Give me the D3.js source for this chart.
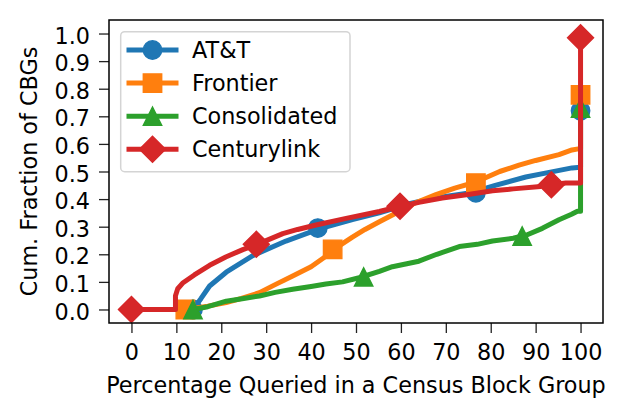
<!DOCTYPE html>
<html>
<head>
<meta charset="utf-8">
<script src="https://cdn.jsdelivr.net/npm/d3@7"></script>
<style>
  body { margin: 0; background: #fff; }
  svg { display: block; font-family: "DejaVu Sans", sans-serif; }
</style>
</head>
<body>
<svg width="624" height="419"></svg>
<script>
var width = 624;
var height = 419;
var margin = {left: 109, right: 21, top: 20, bottom: 96};
var fontSize = '22.3px';

// series, [percent queried, cum. fraction]
var att = [[13.7,0],[15.5,0.04],[17.4,0.085],[21.1,0.135],[27,0.195],[34.4,0.248],[41.8,0.292],
  [49.2,0.326],[55.2,0.35],[61.8,0.383],[68,0.405],[75.2,0.422],[81,0.45],[87.8,0.48],[93,0.497],
  [98.1,0.513],[100,0.515],[100,0.72]];
var frontier = [[12,0],[14,0.005],[17,0.012],[21.1,0.025],[24.5,0.04],[28.5,0.061],[32,0.09],
  [35.9,0.121],[40,0.155],[43.3,0.193],[44.8,0.215],[49.2,0.262],[52,0.29],[55.2,0.318],[59.6,0.355],
  [63,0.385],[67.8,0.416],[72,0.44],[76.7,0.462],[82,0.5],[86.3,0.523],[90,0.54],[95.2,0.561],
  [98.1,0.578],[99.5,0.582],[100,0.582],[100,0.778]];
var consolidated = [[13.7,0],[17,0.01],[21.1,0.03],[25,0.04],[28.5,0.049],[32,0.062],[35.9,0.073],
  [40,0.083],[43.3,0.092],[47,0.1],[50.7,0.115],[55.2,0.138],[58.1,0.155],[64,0.175],[68,0.2],
  [73,0.228],[77,0.236],[80.4,0.248],[85,0.258],[88,0.27],[91.5,0.294],[95.2,0.325],[98,0.345],
  [99.3,0.356],[100,0.356],[100,0.73]];
var centurylink = [[0,0],[9.8,0],[9.8,0.05],[10.3,0.075],[11.5,0.097],[14,0.125],[17.4,0.16],
  [21,0.19],[24.8,0.217],[28,0.236],[33.7,0.275],[37,0.29],[41.1,0.306],[47.8,0.33],[55.2,0.355],
  [60,0.374],[64,0.388],[69.2,0.404],[75,0.417],[80.4,0.43],[85,0.437],[91.1,0.446],[93.5,0.452],
  [96.7,0.458],[100,0.458],[100,0.985]];

// marker positions
var attMarks = [[13.7,0],[41.5,0.295],[76.7,0.423],[100,0.72]];
var frontierMarks = [[12,0],[44.8,0.218],[76.7,0.458],[100,0.778]];
var consolidatedMarks = [[13.7,0],[51.7,0.118],[87,0.266],[100,0.73]];
var centurylinkMarks = [[0,0],[27.8,0.236],[59.8,0.374],[93.5,0.452],[100,0.985]];

var names = ["AT&T", "Frontier", "Consolidated", "Centurylink"];
var colors = ["#1f77b4", "#ff7f0e", "#2ca02c", "#d62728"];
var shapes = ["circle", "square", "triangle", "diamond"];
var xTicks = [0,10,20,30,40,50,60,70,80,90,100];
var yTicks = [0,0.1,0.2,0.3,0.4,0.5,0.6,0.7,0.8,0.9,1.0];

var series = [
  {name: names[0], color: colors[0], shape: shapes[0], values: att, marks: attMarks},
  {name: names[1], color: colors[1], shape: shapes[1], values: frontier, marks: frontierMarks},
  {name: names[2], color: colors[2], shape: shapes[2], values: consolidated, marks: consolidatedMarks},
  {name: names[3], color: colors[3], shape: shapes[3], values: centurylink, marks: centurylinkMarks}
];

var x = d3.scaleLinear().domain([-5, 105]).range([margin.left, width - margin.right]);
var y = d3.scaleLinear().domain([-0.049, 1.049]).range([height - margin.bottom, margin.top]);

var svg = d3.select('svg');

var m = 18.4;  // marker size in px
function markerPath(shape) {
  var h = m / 2;
  if (shape == "circle") {
    return "M" + h + ",0A" + h + "," + h + " 0 1,1 " + (-h) + ",0A" + h + "," + h + " 0 1,1 " + h + ",0Z";
  }
  if (shape == "square") {
    return "M" + (-h) + "," + (-h) + "H" + h + "V" + h + "H" + (-h) + "Z";
  }
  if (shape == "triangle") {
    return "M0," + (-h) + "L" + h + "," + h + "L" + (-h) + "," + h + "Z";
  }
  var d = m * Math.SQRT1_2;
  return "M0," + (-d) + "L" + d + ",0L0," + d + "L" + (-d) + ",0Z";
}

var line = d3.line()
  .x(function (d) { return x(d[0]); })
  .y(function (d) { return y(d[1]); });

// lines + markers, one series after the other
series.forEach(function (s) {
  var g = svg.append('g');
  g.append('path')
    .attr('d', line(s.values))
    .attr('fill', 'none')
    .attr('stroke', s.color)
    .attr('stroke-width', 5)
    .attr('stroke-linejoin', 'round')
    .attr('stroke-linecap', 'square');
  g.selectAll('path.mark')
    .data(s.marks)
    .enter()
    .append('path')
    .attr('class', 'mark')
    .attr('transform', function (d) { return "translate(" + x(d[0]) + "," + y(d[1]) + ")"; })
    .attr('d', markerPath(s.shape))
    .attr('fill', s.color)
    .attr('stroke', s.color)
    .attr('stroke-width', 1.4);
});

// axes
var axisBottom = d3.axisBottom(x).tickValues(xTicks).tickSize(10).tickPadding(11.5)
  .tickFormat(d3.format('d'));
var axisLeft = d3.axisLeft(y).tickValues(yTicks).tickSize(10).tickPadding(9)
  .tickFormat(d3.format('.1f'));

var gx = svg.append('g')
  .attr("transform", "translate(0," + (height - margin.bottom) + ")")
  .call(axisBottom);
var gy = svg.append('g')
  .attr("transform", "translate(" + margin.left + ",0)")
  .call(axisLeft);

[gx, gy].forEach(function (g) {
  g.select('.domain').remove();
  g.selectAll('line').attr('stroke', '#222').attr('stroke-width', 1.3);
  g.selectAll('text').attr('fill', '#000').style('font-size', fontSize)
    .style('font-family', '"DejaVu Sans", sans-serif');
});
gy.selectAll('text').attr('dy', '0.43em');

// frame
svg.append('rect')
  .attr('x', margin.left)
  .attr('y', margin.top)
  .attr('width', width - margin.left - margin.right)
  .attr('height', height - margin.top - margin.bottom)
  .attr('fill', 'none')
  .attr('stroke', '#000')
  .attr('stroke-width', 1.5);

// legend
var legend = svg.append('g');
legend.append('rect')
  .attr('x', 120.7)
  .attr('y', 31.7)
  .attr('width', 229.3)
  .attr('height', 140)
  .attr('rx', 4)
  .attr('fill', '#fff')
  .attr('fill-opacity', 0.8)
  .attr('stroke', '#d4d4d4')
  .attr('stroke-width', 1.5);

var rows = legend.selectAll('g.row')
  .data(series)
  .enter()
  .append('g')
  .attr('class', 'row')
  .attr('transform', function (d, i) { return "translate(0," + (50 + i * 33.1) + ")"; });

rows.append('line')
  .attr('x1', 129)
  .attr('x2', 176)
  .attr('stroke', function (d) { return d.color; })
  .attr('stroke-width', 5)
  .attr('stroke-linecap', 'square');
rows.append('path')
  .attr('transform', 'translate(152.5,0)')
  .attr('d', function (d) { return markerPath(d.shape); })
  .attr('fill', function (d) { return d.color; })
  .attr('stroke', function (d) { return d.color; })
  .attr('stroke-width', 1.4);
rows.append('text')
  .attr('x', 192)
  .attr('y', 7.8)
  .style('font-size', fontSize)
  .text(function (d) { return d.name; });

// text label for the y axis
svg.append("text")
  .attr("transform", "rotate(-90)")
  .attr("y", 37)
  .attr("x", 0 - (margin.top + height - margin.bottom) / 2)
  .style("text-anchor", "middle")
  .style('font-size', fontSize)
  .text("Cum. Fraction of CBGs");

// text label for the x axis
svg.append("text")
  .attr("y", 393)
  .attr("x", (margin.left + width - margin.right) / 2)
  .style("text-anchor", "middle")
  .style('font-size', fontSize)
  .text("Percentage Queried in a Census Block Group");
</script>
</body>
</html>
